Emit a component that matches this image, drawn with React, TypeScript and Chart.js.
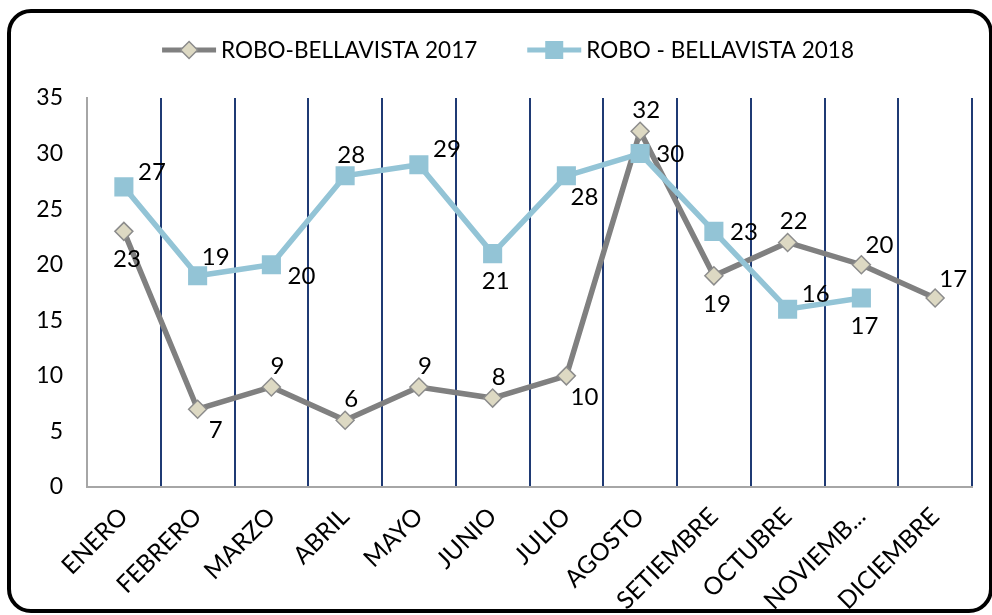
import React, { useEffect, useRef } from "react";
import { Chart, registerables } from "chart.js";

Chart.register(...registerables);

const categories = ["ENERO", "FEBRERO", "MARZO", "ABRIL", "MAYO", "JUNIO", "JULIO", "AGOSTO", "SETIEMBRE", "OCTUBRE", "NOVIEMB...", "DICIEMBRE"];
const label2017 = "ROBO-BELLAVISTA 2017";
const label2018 = "ROBO - BELLAVISTA 2018";
const robo2017 = [23, 7, 9, 6, 9, 8, 10, 32, 19, 22, 20, 17];
const robo2018 = [27, 19, 20, 28, 29, 21, 28, 30, 23, 16, 17, null];
const yTicks = [0, 5, 10, 15, 20, 25, 30, 35];
const labelPlace2017 = ["below", "belowRight", "above", "above", "above", "above", "belowRight", "above", "below", "above", "aboveRight", "aboveRight"];
const labelPlace2018 = ["rightAbove", "aboveRight", "rightBelow", "above", "rightAbove", "below", "belowRight", "right", "right", "rightAbove", "below", ""];

const FONT = "Lato, 'Open Sans', sans-serif";
const GRAY = "#808080";
const BLUE = "#93C4D6";
const BEIGE = "#DDD9C3";
const NAVY = "#1F3A74";

const OFFSETS: Record<string, [number, number]> = {
  above: [6, -21],
  below: [3, 28],
  right: [30, 1],
  aboveRight: [18, -19],
  belowRight: [18, 21],
  rightAbove: [28, -15],
  rightBelow: [30, 12],
};

function drawDiamond(ctx: CanvasRenderingContext2D, x: number, y: number, r: number) {
  ctx.beginPath();
  ctx.moveTo(x, y - r);
  ctx.lineTo(x + r, y);
  ctx.lineTo(x, y + r);
  ctx.lineTo(x - r, y);
  ctx.closePath();
  ctx.fillStyle = BEIGE;
  ctx.fill();
  ctx.strokeStyle = "#8C8C8C";
  ctx.lineWidth = 1.5;
  ctx.stroke();
}

const labelsPlugin = {
  id: "valueLabels",
  afterDatasetsDraw(chart: any) {
    const ctx = chart.ctx as CanvasRenderingContext2D;
    ctx.save();
    ctx.font = `24px ${FONT}`;
    ctx.fillStyle = "#000";
    ctx.textAlign = "center";
    ctx.textBaseline = "middle";
    chart.data.datasets.forEach((ds: any, di: number) => {
      const meta = chart.getDatasetMeta(di);
      const places = ds.placements as string[];
      meta.data.forEach((pt: any, i: number) => {
        const v = ds.data[i];
        if (v === null || v === undefined) return;
        const off = OFFSETS[places[i]] || [0, -20];
        ctx.fillText(String(v), pt.x + off[0], pt.y + off[1]);
      });
    });
    ctx.restore();
  },
};

const legendPlugin = {
  id: "customLegend",
  afterDraw(chart: any) {
    const ctx = chart.ctx as CanvasRenderingContext2D;
    ctx.save();
    ctx.font = `22.5px ${FONT}`;
    const w1 = ctx.measureText(label2017).width;
    const w2 = ctx.measureText(label2018).width;
    const lineLen = 54;
    const gapText = 5;
    const itemGap = 50;
    const total = lineLen + gapText + w1 + itemGap + lineLen + gapText + w2;
    let x = 508 - total / 2;
    const y = 50;
    ctx.strokeStyle = GRAY;
    ctx.lineWidth = 5;
    ctx.beginPath();
    ctx.moveTo(x, y);
    ctx.lineTo(x + lineLen, y);
    ctx.stroke();
    drawDiamond(ctx, x + lineLen / 2, y, 8.5);
    ctx.fillStyle = "#000";
    ctx.textAlign = "left";
    ctx.textBaseline = "middle";
    ctx.fillText(label2017, x + lineLen + gapText, y + 1);
    x += lineLen + gapText + w1 + itemGap;
    ctx.strokeStyle = BLUE;
    ctx.lineWidth = 5;
    ctx.beginPath();
    ctx.moveTo(x, y);
    ctx.lineTo(x + lineLen, y);
    ctx.stroke();
    ctx.fillStyle = BLUE;
    ctx.fillRect(x + lineLen / 2 - 9, y - 9, 18, 18);
    ctx.fillStyle = "#000";
    ctx.fillText(label2018, x + lineLen + gapText, y + 1);
    ctx.restore();
  },
};

export default function App() {
  const canvasRef = useRef<HTMLCanvasElement | null>(null);

  useEffect(() => {
    const canvas = canvasRef.current;
    if (!canvas) return;
    const chart = new Chart(canvas, {
      type: "line",
      data: {
        labels: categories,
        datasets: [
          {
            label: label2017,
            data: robo2017,
            placements: labelPlace2017,
            borderColor: GRAY,
            borderWidth: 5.5,
            tension: 0,
            pointStyle: "rectRot",
            pointRadius: 9,
            pointBackgroundColor: BEIGE,
            pointBorderColor: "#8C8C8C",
            pointBorderWidth: 1.5,
            order: 1,
          } as any,
          {
            label: label2018,
            data: robo2018,
            placements: labelPlace2018,
            borderColor: BLUE,
            borderWidth: 5.5,
            tension: 0,
            pointStyle: "rect",
            pointRadius: 13.5,
            pointBackgroundColor: BLUE,
            pointBorderColor: BLUE,
            pointBorderWidth: 0,
            spanGaps: false,
            order: 0,
          } as any,
        ],
      },
      options: {
        responsive: false,
        animation: false,
        layout: { padding: { top: 98, right: 20, left: 0, bottom: 0 } },
        plugins: { legend: { display: false }, tooltip: { enabled: false } },
        scales: {
          x: {
            type: "category",
            offset: true,
            z: 1,
            grid: {
              offset: true,
              display: true,
              drawTicks: false,
              lineWidth: 2,
              color: (c: any) => (c.index === 0 ? "rgba(0,0,0,0)" : NAVY),
            },
            border: { display: true, color: "#A6A6A6", width: 2 },
            ticks: {
              autoSkip: false,
              minRotation: 45,
              maxRotation: 45,
              padding: 15,
              color: "#000",
              font: { family: FONT, size: 24.5 },
            },
            afterFit: (s: any) => {
              s.height = 128;
            },
          },
          y: {
            min: 0,
            max: 35,
            grid: { display: false, drawTicks: false },
            border: { display: true, color: "#A6A6A6", width: 2 },
            ticks: {
              padding: 24,
              color: "#000",
              font: { family: FONT, size: 23 },
            },
            afterBuildTicks: (s: any) => {
              s.ticks = yTicks.map((v) => ({ value: v }));
            },
            afterFit: (s: any) => {
              s.width = 87;
            },
          },
        },
      } as any,
      plugins: [labelsPlugin, legendPlugin],
    });
    return () => chart.destroy();
  }, []);

  return (
    <div style={{ position: "fixed", left: 0, top: 0, width: 992, height: 615, background: "#fff" }}>
      <canvas ref={canvasRef} width={992} height={615} style={{ position: "absolute", left: 0, top: 0, width: 992, height: 615 }} />
      <div
        style={{
          position: "absolute",
          left: 7,
          top: 9,
          width: 986,
          height: 604,
          border: "4px solid #000",
          borderRadius: 24,
          boxSizing: "border-box",
          pointerEvents: "none",
        }}
      />
    </div>
  );
}
